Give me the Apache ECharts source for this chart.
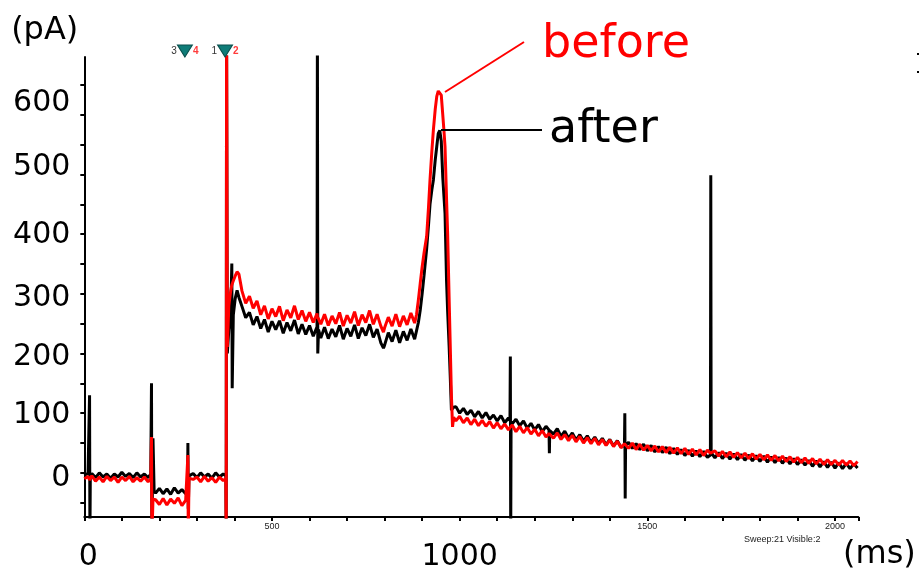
<!DOCTYPE html>
<html><head><meta charset="utf-8">
<script src="https://cdn.jsdelivr.net/npm/echarts@6/dist/echarts.min.js"></script>
<style>html,body{margin:0;padding:0;background:#fff}#chart{width:920px;height:574px}</style>
</head><body><div id="chart"></div>
<script>
// ---- data ----
const timeMs = [
  0, 10, 13, 14, 15, 16, 20, 30, 40, 50, 60, 70, 80, 90, 100, 110, 120, 130, 140, 150, 160, 170, 177,
  179, 180, 183, 186, 190, 200, 210, 220, 230, 240, 250, 260, 270, 275,
  276, 277, 279, 290, 300, 310, 320, 330, 340, 350, 360, 370, 377,
  378, 379, 381, 385, 390, 393, 394, 397, 402, 407, 412,
  420, 430, 440, 450, 460, 470, 480, 490, 500, 510, 520, 530, 540, 550, 560, 570, 580, 590, 600,
  610, 620, 621, 622, 624, 630, 640, 650, 660, 670, 680, 690, 700, 710, 720, 730, 740, 750, 760, 770, 780,
  790, 797, 800, 810, 820, 830, 840, 850, 860, 870, 880,
  885, 890, 895, 900, 905, 912, 917, 921, 926, 930, 935, 939, 943, 947, 951, 955, 958, 961, 965, 968, 972, 975, 978, 981, 984,
  990, 1000, 1010, 1020, 1030, 1040, 1050, 1060, 1070, 1080, 1090, 1100, 1110, 1120, 1130, 1134, 1135, 1136, 1137,
  1140, 1150, 1160, 1170, 1180, 1190, 1200, 1210, 1220, 1230, 1238, 1239, 1240,
  1250, 1260, 1270, 1280, 1290, 1300, 1310, 1320, 1330, 1340, 1350, 1360, 1370, 1380, 1390, 1400, 1410, 1420, 1430, 1439, 1440, 1441, 1442,
  1450, 1460, 1470, 1480, 1490, 1500, 1510, 1520, 1530, 1540, 1550, 1560, 1570, 1580, 1590, 1600, 1610, 1620, 1630, 1640, 1650, 1660, 1668, 1669, 1670,
  1680, 1690, 1700, 1710, 1720, 1730, 1740, 1750, 1760, 1770, 1780, 1790, 1800, 1810, 1820, 1830, 1840, 1850, 1860, 1870, 1880, 1890, 1900,
  1910, 1920, 1930, 1940, 1950, 1960, 1970, 1980, 1990, 2000, 2010, 2020, 2030, 2040, 2050, 2060
];
const afterPA = [
  -4, -1, -3, 130, -110, -6, -1, -8, 0, -7, -2, -9, -2, -7, 1, -6, -1, -8, 0, -7, -2, -8, -2,
  150, -110, 58, -30, -34, -26, -35, -27, -36, -25, -34, -28, -35, -31,
  50, -60, -5, -1, -8, 0, -7, -2, -9, 0, -7, -2, -5,
  -110, 760, 200, 240, 262, 351, 142, 265, 292, 306, 294,
  279, 260, 269, 248, 262, 242, 257, 236, 254, 240, 255, 234, 252, 238, 256, 233, 249, 232, 247,
  229, 245, 760, 200, 240, 226, 244, 225, 241, 228, 247, 224, 242, 229, 248, 225, 243, 230, 249, 227, 241,
  218, 209, 214, 235, 220, 239, 218, 237, 222, 241, 224,
  238, 252, 273, 300, 330, 375, 415, 450, 475, 491, 525, 547, 569, 574, 556, 495, 465, 435, 323, 270, 211, 160, 105, 108, 110,
  111, 100, 108, 98, 105, 94, 103, 92, 101, 90, 97, 87, 96, 84, 92, 88, 195, -110, 86,
  82, 90, 79, 87, 75, 83, 72, 81, 69, 78, 72, 33, 71,
  65, 74, 61, 70, 58, 67, 55, 64, 53, 62, 51, 60, 49, 58, 47, 56, 45, 54, 43, 47, 100, -43, 46,
  51, 41, 49, 39, 48, 37, 46, 35, 44, 34, 43, 32, 41, 31, 39, 29, 38, 28, 37, 27, 36, 26, 30, 499, 34,
  25, 34, 24, 33, 23, 32, 22, 31, 21, 30, 20, 29, 19, 28, 18, 27, 17, 26, 16, 25, 15, 24, 14,
  22, 13, 21, 11, 20, 10, 19, 9, 18, 8, 17, 7, 16, 7, 15, 8
];
const beforePA = [
  -10, -6, -9, -12, -9, -11, -5, -14, -7, -15, -6, -13, -7, -16, -7, -13, -6, -15, -8, -14, -7, -15, -10,
  60, -110, -44, -47, -45, -53, -43, -54, -44, -51, -42, -55, -46, -49,
  30, -110, -9, -11, -7, -15, -6, -14, -8, -16, -7, -13, -10,
  -110, 760, 211, 280, 305, 315, 318, 322, 330, 337, 333,
  305, 284, 296, 276, 288, 265, 280, 258, 275, 262, 279, 255, 273, 260, 280, 257, 272, 254, 269,
  252, 267, 262, 260, 258, 249, 266, 247, 263, 250, 269, 246, 264, 251, 270, 247, 265, 252, 272, 249, 266,
  246, 236, 243, 261, 246, 266, 245, 263, 248, 268, 251,
  265, 290, 318, 345, 368, 396, 445, 491, 540, 575, 610, 631, 640, 642, 633, 600, 575, 547, 460, 400, 290, 211, 130, 77, 93,
  87, 95, 84, 92, 81, 90, 79, 88, 78, 86, 75, 84, 74, 82, 72, 76, 77, 77, 78,
  80, 69, 78, 67, 76, 65, 73, 62, 71, 60, 66, 66, 65,
  58, 67, 56, 64, 54, 63, 52, 61, 50, 59, 49, 58, 47, 56, 46, 55, 44, 53, 42, 49, 49, 48, 47,
  41, 50, 39, 48, 38, 46, 37, 45, 35, 44, 34, 43, 33, 42, 32, 41, 31, 40, 30, 39, 29, 38, 33, 32, 32,
  37, 28, 36, 27, 35, 26, 34, 25, 33, 24, 32, 23, 31, 22, 30, 21, 29, 20, 28, 19, 27, 18, 26,
  17, 25, 16, 24, 15, 23, 14, 22, 14, 21, 13, 21, 13, 20, 12, 19
];
const seriesNames = ['after', 'before'];
const xSmallLabels = [500, 1500, 2000];
const xLargeLabels = [0, 1000];
const yTickValues = [-50, 0, 50, 100, 150, 200, 250, 300, 350, 400, 450, 500, 550, 600, 650];
const yLabelValues = [0, 100, 200, 300, 400, 500, 600];
const cursorMs = [268, 375];
const cursorLeft = ['3', '1'];
const cursorRight = ['4', '2'];
const X_MIN = 0, X_MAX = 2062, Y_MIN = -74, Y_MAX = 697;

// ---- styling ----
const BIG = '"DejaVu Sans", Verdana, sans-serif';
const SMALL = '"Liberation Sans", Arial, sans-serif';
const yLabelShift = {0: 5.5, 100: 2.5, 200: 4, 300: 4.5, 400: 1, 500: -7.5, 600: -12};
const yRich = {};
yLabelValues.forEach(v => {
  const s = yLabelShift[v] || 0;
  yRich['s' + v] = {
    fontSize: 30, fontFamily: BIG, color: '#000',
    padding: s > 0 ? [2 * s, 0, 0, 0] : [0, 0, -2 * s, 0]
  };
});
const xRich = {
  s0: {fontSize: 30, fontFamily: BIG, color: '#000', padding: [0, 0, 0, 8]},
  s1000: {fontSize: 30, fontFamily: BIG, color: '#000'}
};

const chart = echarts.init(document.getElementById('chart'), null, {renderer: 'canvas'});
const lineData = vals => timeMs.map((t, i) => [t, vals[i]]);

chart.setOption({
  animation: false,
  backgroundColor: '#fff',
  grid: {left: 84.3, right: 61.7, top: 57, bottom: 57, containLabel: false},
  xAxis: [{
    type: 'value', min: X_MIN, max: X_MAX, interval: 100,
    axisLine: {show: true, onZero: false, lineStyle: {color: '#000', width: 2}},
    axisTick: {show: true, length: 4, lineStyle: {color: '#000', width: 2}},
    axisLabel: {customValues: xSmallLabels, formatter: v => String(v), fontSize: 9, fontFamily: SMALL, color: '#222', margin: 5},
    splitLine: {show: false}
  }, {
    type: 'value', min: X_MIN, max: X_MAX, position: 'bottom',
    axisLine: {show: false}, axisTick: {show: false}, splitLine: {show: false},
    axisLabel: {customValues: xLargeLabels, formatter: v => '{s' + v + '|' + v + '}', rich: xRich,
      fontSize: 30, fontFamily: BIG, color: '#000', margin: 25}
  }],
  yAxis: {
    type: 'value', min: Y_MIN, max: Y_MAX,
    axisLine: {show: true, onZero: false, lineStyle: {color: '#000', width: 2}},
    axisTick: {show: true, length: 4, customValues: yTickValues, lineStyle: {color: '#000', width: 2}},
    axisLabel: {
      customValues: yLabelValues, margin: 14, fontSize: 30, fontFamily: BIG, color: '#000',
      formatter: v => '{s' + v + '|' + v + '}', rich: yRich
    },
    splitLine: {show: false},
    name: '(pA)', nameLocation: 'end', nameGap: 10,
    nameTextStyle: {fontSize: 32, fontFamily: BIG, color: '#000', align: 'right', padding: [0, 6, 0, 0]}
  },
  series: [{
    name: seriesNames[0], type: 'line', data: lineData(afterPA),
    showSymbol: false, symbol: 'none', clip: true,
    lineStyle: {color: '#000', width: 3}, itemStyle: {color: '#000'}, z: 2,
    markPoint: {
      symbol: 'triangle', symbolRotate: 180, symbolSize: [15, 12], symbolOffset: [0, -6],
      itemStyle: {color: '#0f7c78', borderColor: '#0a4f4c', borderWidth: 1},
      label: {show: true, position: 'inside',
        rich: {
          l: {fontSize: 10, fontFamily: SMALL, color: '#333'},
          g: {width: 16},
          r: {fontSize: 10, fontFamily: SMALL, color: '#ff3b3b', fontWeight: 'bold'}
        }},
      data: cursorMs.map((t, i) => ({
        coord: [t, Y_MAX],
        label: {formatter: '{l|' + cursorLeft[i] + '}{g|}{r|' + cursorRight[i] + '}'}
      }))
    }
  }, {
    name: seriesNames[1], type: 'line', data: lineData(beforePA),
    showSymbol: false, symbol: 'none', clip: true,
    lineStyle: {color: '#ff0000', width: 3}, itemStyle: {color: '#ff0000'}, z: 3
  }],
  graphic: [
    {type: 'line', shape: {x1: 445, y1: 92, x2: 524, y2: 42}, style: {stroke: '#ff0000', lineWidth: 2}, z: 10},
    {type: 'line', shape: {x1: 441, y1: 130, x2: 542, y2: 130}, style: {stroke: '#000', lineWidth: 2}, z: 10},
    {type: 'text', x: 542, y: 45, z: 10, style: {text: 'before', font: '46px ' + BIG, fill: '#ff0000', align: 'left', verticalAlign: 'middle', textAlign: 'left', textVerticalAlign: 'middle'}},
    {type: 'text', x: 549, y: 130, z: 10, style: {text: 'after', font: '46px ' + BIG, fill: '#000', align: 'left', verticalAlign: 'middle', textAlign: 'left', textVerticalAlign: 'middle'}},
    {type: 'text', x: 843, y: 555, z: 10, style: {text: '(ms)', font: '32px ' + BIG, fill: '#000', align: 'left', verticalAlign: 'middle', textAlign: 'left', textVerticalAlign: 'middle'}},
    {type: 'text', x: 744, y: 540, z: 10, style: {text: 'Sweep:21 Visible:2', font: '9px ' + SMALL, fill: '#222', align: 'left', verticalAlign: 'middle', textAlign: 'left', textVerticalAlign: 'middle'}},
    {type: 'rect', shape: {x: 917, y: 53, width: 2, height: 2}, style: {fill: '#000'}},
    {type: 'rect', shape: {x: 917, y: 71, width: 2, height: 2}, style: {fill: '#000'}}
  ]
});
</script></body></html>
